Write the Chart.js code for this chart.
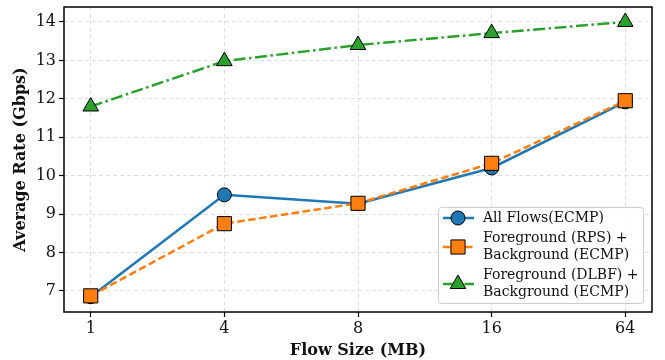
<!DOCTYPE html>
<html>
<head>
<meta charset="utf-8">
<script src="https://cdn.jsdelivr.net/npm/chart.js@4.4.0/dist/chart.umd.min.js"></script>
<style>
  html, body { margin: 0; padding: 0; background: #fff; }
  #wrap { width: 665px; height: 360px; }
</style>
</head>
<body>
<div id="wrap"><canvas id="mycanvas"></canvas></div>
<script>
// datos
const flowSizes = ["1", "4", "8", "16", "64"];
const allFlowsEcmp = [6.85, 9.5, 9.27, 10.2, 11.92];
const fgRpsBgEcmp = [6.87, 8.75, 9.28, 10.32, 11.95];
const fgDlbfBgEcmp = [11.8, 12.98, 13.4, 13.71, 14.0];
const yTicks = [7, 8, 9, 10, 11, 12, 13, 14];

const legendLabels = [
    ["All Flows(ECMP)"],
    ["Foreground (RPS) +", "Background (ECMP)"],
    ["Foreground (DLBF) +", "Background (ECMP)"]
];

const FONT = "'DejaVu Serif', serif";

function toPoints(arr) {
    return arr.map((v, i) => ({ x: i, y: v }));
}

// marco completo + leyenda dentro del area
const framePlugin = {
    id: "frame",
    afterDraw(chart) {
        const ctx = chart.ctx;
        const a = chart.chartArea;
        ctx.save();
        ctx.strokeStyle = "#000";
        ctx.lineWidth = 1.5;
        ctx.strokeRect(a.left, a.top, a.right - a.left, a.bottom - a.top);

        // leyenda
        const bx = a.right - 214, by = a.bottom - 105, bw = 205, bh = 96;
        ctx.fillStyle = "rgba(255,255,255,0.85)";
        ctx.strokeStyle = "#cccccc";
        ctx.lineWidth = 1;
        ctx.beginPath();
        ctx.roundRect(bx + 0.5, by + 0.5, bw, bh, 3);
        ctx.fill();
        ctx.stroke();

        const rows = [11, 40, 77];
        ctx.font = "14px " + FONT;
        ctx.textBaseline = "middle";
        chart.data.datasets.forEach((ds, i) => {
            const cy = by + rows[i];
            ctx.save();
            ctx.strokeStyle = ds.borderColor;
            ctx.lineWidth = ds.borderWidth;
            ctx.setLineDash(ds.borderDash || []);
            ctx.beginPath();
            ctx.moveTo(bx + 5, cy);
            ctx.lineTo(bx + 36, cy);
            ctx.stroke();
            ctx.restore();
            ctx.save();
            ctx.fillStyle = ds.pointBackgroundColor;
            ctx.strokeStyle = "#000";
            ctx.lineWidth = 1;
            Chart.helpers.drawPoint(ctx, {
                pointStyle: ds.pointStyle,
                rotation: 0,
                borderWidth: 1
            }, bx + 20, cy);
            ctx.restore();
            ctx.fillStyle = "#111";
            const lines = legendLabels[i];
            const lh = 16.5;
            const y0 = cy - (lines.length - 1) * lh / 2;
            lines.forEach((t, k) => ctx.fillText(t, bx + 45, y0 + k * lh));
        });
        ctx.restore();
    }
};

// radios de marcadores para la leyenda
Chart.helpers.drawPoint = (function (orig) {
    return function (ctx, opts, x, y) {
        const r = { circle: 7, rect: 10, triangle: 9 }[opts.pointStyle] || 7;
        return orig(ctx, Object.assign({ radius: r }, opts), x, y);
    };
})(Chart.helpers.drawPoint);

const chartData = {
    datasets: [
        {
            label: "All Flows(ECMP)",
            data: toPoints(allFlowsEcmp),
            borderColor: "#1f77b4",
            backgroundColor: "#1f77b4",
            pointBackgroundColor: "#1f77b4",
            pointBorderColor: "#000",
            pointBorderWidth: 1,
            pointStyle: "circle",
            pointRadius: 7,
            borderWidth: 2.5,
            order: 3
        },
        {
            label: "Foreground (RPS) + Background (ECMP)",
            data: toPoints(fgRpsBgEcmp),
            borderColor: "#ff7f0e",
            backgroundColor: "#ff7f0e",
            pointBackgroundColor: "#ff7f0e",
            pointBorderColor: "#000",
            pointBorderWidth: 1,
            pointStyle: "rect",
            pointRadius: 10,
            borderWidth: 2.5,
            borderDash: [7.5, 3.5],
            order: 2
        },
        {
            label: "Foreground (DLBF) + Background (ECMP)",
            data: toPoints(fgDlbfBgEcmp),
            borderColor: "#2ca02c",
            backgroundColor: "#2ca02c",
            pointBackgroundColor: "#2ca02c",
            pointBorderColor: "#000",
            pointBorderWidth: 1,
            pointStyle: "triangle",
            pointRadius: 9,
            borderWidth: 2.5,
            borderDash: [12, 3.5, 2.5, 3.5],
            order: 1
        }
    ]
};

const ctx = document.getElementById("mycanvas");

const LineGraph = new Chart(ctx, {
    type: "line",
    data: chartData,
    plugins: [framePlugin],
    options: {
        responsive: true,
        maintainAspectRatio: false,
        animation: false,
        layout: { autoPadding: false, padding: { top: 7, right: 13, left: 0, bottom: 0 } },
        plugins: {
            legend: { display: false },
            tooltip: { enabled: false }
        },
        scales: {
            x: {
                type: "linear",
                min: -0.2,
                max: 4.2,
                afterBuildTicks: s => { s.ticks = flowSizes.map((_, i) => ({ value: i })); },
                afterFit: s => { s.height = 48; s.paddingLeft = 0; s.paddingRight = 0; },
                ticks: {
                    callback: v => flowSizes[v],
                    color: "#111",
                    font: { family: FONT, size: 16 },
                    padding: 2,
                    maxRotation: 0
                },
                grid: {
                    color: "#dddddd",
                    lineWidth: 1,
                    tickColor: "#000",
                    tickLength: 5,
                    tickWidth: 1.2
                },
                border: { display: false, dash: [4, 3] },
                title: {
                    display: true,
                    text: "Flow Size (MB)",
                    color: "#111",
                    font: { family: FONT, size: 16, weight: "bold" },
                    padding: { top: 0, bottom: 0 }
                }
            },
            y: {
                min: 6.45,
                max: 14.39,
                afterBuildTicks: s => { s.ticks = yTicks.map(v => ({ value: v })); },
                afterFit: s => { s.width = 64; s.paddingTop = 0; s.paddingBottom = 0; },
                ticks: {
                    color: "#111",
                    font: { family: FONT, size: 16 },
                    padding: 3
                },
                grid: {
                    color: "#dddddd",
                    lineWidth: 1,
                    tickColor: "#000",
                    tickLength: 5,
                    tickWidth: 1.2
                },
                border: { display: false, dash: [4, 3] },
                title: {
                    display: true,
                    text: "Average Rate (Gbps)",
                    color: "#111",
                    font: { family: FONT, size: 16, weight: "bold" },
                    padding: { top: 11, bottom: 2 }
                }
            }
        }
    }
});
</script>
</body>
</html>
